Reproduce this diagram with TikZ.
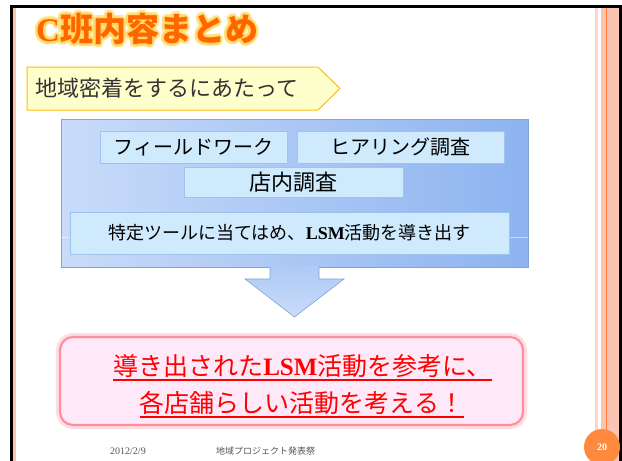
\documentclass[tikz,border=0pt]{standalone}
\usepackage{fontspec}
\setmainfont{Liberation Serif}
\newfontfamily\jp{Noto Sans CJK JP}
\definecolor{stripe}{HTML}{FBC4B2}
\definecolor{stripeline}{HTML}{FF7A30}
\definecolor{titleor}{HTML}{FF6600}
\definecolor{glow}{HTML}{FFD860}
\definecolor{penfill}{HTML}{FFFFCC}
\definecolor{pendraw}{HTML}{FFC000}
\definecolor{blueL}{HTML}{C9DBF9}
\definecolor{blueR}{HTML}{8DB3F0}
\definecolor{blueedge}{HTML}{7FA3DA}
\definecolor{sfill}{HTML}{CFEAFD}
\definecolor{sdraw}{HTML}{9DC3EE}
\definecolor{pinkfill}{HTML}{FFE8F8}
\definecolor{pinkedge}{HTML}{FF8F9F}
\definecolor{circ}{HTML}{FF8A3D}
\definecolor{foot}{HTML}{555555}
\tikzset{
  sbox/.style={draw=sdraw, fill=sfill, line width=0.6pt, inner sep=0pt, font=\jp\fontsize{20}{22}\selectfont},
  redline/.style={anchor=base, inner sep=0pt, text=red, font=\jp\fontsize{25}{27}\selectfont},
  titlefont/.style={anchor=west, inner sep=0pt, font=\jp\bfseries\fontsize{33}{35}\selectfont},
}
\begin{document}
\begin{tikzpicture}[x=1pt,y=-1pt]
\useasboundingbox (0,0) rectangle (622,461);
\fill[white] (0,0) rectangle (622,461);
% frame
\fill[black] (10,5) rectangle (12.5,461);
\fill[black] (10,5) rectangle (622,7.5);
\fill[black] (619,5) rectangle (622,461);
\fill[stripe] (13,7.5) rectangle (15.5,461);
\fill[stripe!70] (595,7.5) rectangle (598,461);
\fill[stripe] (601,7.5) rectangle (619,461);
\draw[stripeline, line width=0.8pt] (606.5,7.5) -- (606.5,461);
% title with glow
\foreach \a in {0,30,...,330}{
  \node[titlefont, text=glow, opacity=0.35] at ([shift={(\a:3)}]36,29) {{\rmfamily\bfseries C}班内容まとめ};
  \node[titlefont, text=glow, opacity=0.5] at ([shift={(\a:1.5)}]36,29) {{\rmfamily\bfseries C}班内容まとめ};
}
\node[titlefont, text=titleor] (title) at (36,29) {{\rmfamily\bfseries C}班内容まとめ};
% pentagon
\draw[fill=penfill, draw=pendraw, line width=1pt] (27,67) -- (318,67) -- (340,88.5) -- (318,110) -- (27,110) -- cycle;
\node[anchor=west, inner sep=0pt, text=black!80, font=\jp\fontsize{22}{24}\selectfont] (sub) at (35,88.5) {地域密着をするにあたって};
% blue box
\shade[left color=blueL, right color=blueR] (61,119) rectangle (528,267);
\draw[blueedge, line width=0.6pt] (61,119) rectangle (528,267);
\draw[white, opacity=0.5, line width=0.6pt] (61,237) -- (528,237);
\node[sbox, minimum width=187pt, minimum height=32pt] (fw) at (193.5,147) {フィールドワーク};
\node[sbox, minimum width=207pt, minimum height=32pt] (hr) at (400.5,147) {ヒアリング調査};
\node[sbox, minimum width=219pt, minimum height=30pt, font=\jp\fontsize{22}{24}\selectfont] (tn) at (293.5,182) {店内調査};
\node[sbox, minimum width=439pt, minimum height=42pt, font=\jp\fontsize{18}{20}\selectfont] (tt) at (289.5,233) {特定ツールに当てはめ、{\rmfamily\bfseries LSM}活動を導き出す};
% block arrow
\shade[top color=blueR!70!white, bottom color=blueL] (270,266) -- (270,279) -- (245,279) -- (294.5,317) -- (344,279) -- (319,279) -- (319,266) -- cycle;
\draw[blueedge, line width=0.6pt] (270,267) -- (270,279) -- (245,279) -- (294.5,317) -- (344,279) -- (319,279) -- (319,267);
% pink box
\draw[pinkedge, opacity=0.3, line width=8pt, rounded corners=13pt] (60,337) rectangle (523,425);
\draw[pinkedge, fill=pinkfill, line width=2.2pt, rounded corners=13pt] (60,337) rectangle (523,425);
\node[redline] (l1) at (302.5,375) {導き出された{\rmfamily\bfseries LSM}活動を参考に、};
\node[redline] (l2) at (302,412) {各店舗らしい活動を考える！};
\draw[red, line width=1.6pt] ([yshift=-5pt]l1.base west) -- ([yshift=-5pt]l1.base east);
\draw[red, line width=1.6pt] ([yshift=-5pt]l2.base west) -- ([yshift=-5pt]l2.base east);
% footer
\node[anchor=base west, inner sep=0pt, text=foot, font=\fontsize{10}{11}\selectfont] (date) at (110,454) {2012/2/9};
\node[anchor=base west, inner sep=0pt, text=foot, font=\jp\fontsize{9}{10}\selectfont] (ev) at (216,454) {地域プロジェクト発表祭};
\fill[circ] (602,447) circle (18);
\node[text=white, inner sep=0pt, font=\bfseries\fontsize{10}{12}\selectfont] (pg) at (602,447) {20};
\end{tikzpicture}
\end{document}
